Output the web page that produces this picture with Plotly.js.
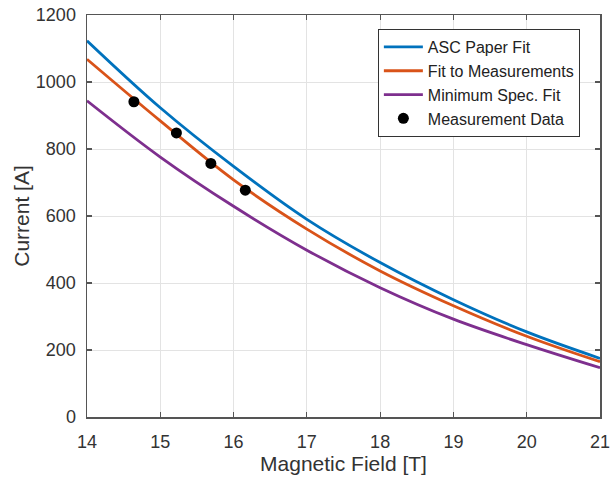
<!DOCTYPE html>
<html>
<head>
<meta charset="utf-8">
<script src="https://cdn.plot.ly/plotly-3.0.1.min.js"></script>
<style>html,body{margin:0;padding:0;background:#fff;}#chart{width:611px;height:477px;}</style>
</head>
<body>
<div id="chart"></div>
<script>
const fieldT = [14, 15, 16, 17, 18, 19, 20, 21];
const ascPaperFit = [1123, 923, 748, 590, 461, 350, 254, 175];
const fitToMeasurements = [1068, 884, 708, 561, 436, 332, 241, 165];
const minimumSpecFit = [944, 776, 629, 498, 386, 292, 216, 147];
const measField = [14.64, 15.22, 15.69, 16.16];
const measCurrent = [941, 848, 757, 677];
const xTicks = [14, 15, 16, 17, 18, 19, 20, 21];
const yTicks = [0, 200, 400, 600, 800, 1000, 1200];

const font = 'Liberation Sans, Arial, sans-serif';
const lineW = 2.8;
const traces = [
  {x: fieldT, y: ascPaperFit, name: 'ASC Paper Fit', mode: 'lines',
   line: {color: '#0072BD', width: lineW, shape: 'spline', smoothing: 1}},
  {x: fieldT, y: fitToMeasurements, name: 'Fit to Measurements', mode: 'lines',
   line: {color: '#D95319', width: lineW, shape: 'spline', smoothing: 1}},
  {x: fieldT, y: minimumSpecFit, name: 'Minimum Spec. Fit', mode: 'lines',
   line: {color: '#7E2F8E', width: lineW, shape: 'spline', smoothing: 1}},
  {x: measField, y: measCurrent, name: 'Measurement Data', mode: 'markers',
   marker: {color: '#000', size: 11}}
];

const axisCommon = {
  showline: true, linecolor: '#555', linewidth: 1.5, mirror: 'ticks',
  ticks: 'inside', ticklen: 5, tickwidth: 1.2, tickcolor: '#555',
  showgrid: true, gridcolor: '#e3e3e3', gridwidth: 1, zeroline: false,
  tickfont: {family: font, size: 18, color: '#333'}
};

const layout = {
  width: 611, height: 477,
  margin: {l: 87, r: 11, t: 15, b: 60, pad: 0},
  paper_bgcolor: '#fff', plot_bgcolor: '#fff',
  showlegend: true,
  legend: {x: 0.567, y: 0.965, xanchor: 'left', yanchor: 'top',
    bgcolor: '#fff', bordercolor: '#333', borderwidth: 1, itemwidth: 39,
    font: {family: font, size: 16, color: '#222'}, tracegroupgap: 0},
  xaxis: Object.assign({}, axisCommon, {
    range: [14, 21], tickvals: xTicks, ticktext: xTicks.map(String),
    ticklabelstandoff: 8,
    title: {text: 'Magnetic Field [T]', font: {family: font, size: 21, color: '#333'}, standoff: 3}
  }),
  yaxis: Object.assign({}, axisCommon, {
    range: [0, 1200], tickvals: yTicks, ticktext: yTicks.map(String),
    ticklabelstandoff: 6,
    title: {text: 'Current [A]', font: {family: font, size: 21, color: '#333'}, standoff: 0}
  })
};

Plotly.newPlot('chart', traces, layout, {displayModeBar: false, staticPlot: true});
</script>
</body>
</html>
